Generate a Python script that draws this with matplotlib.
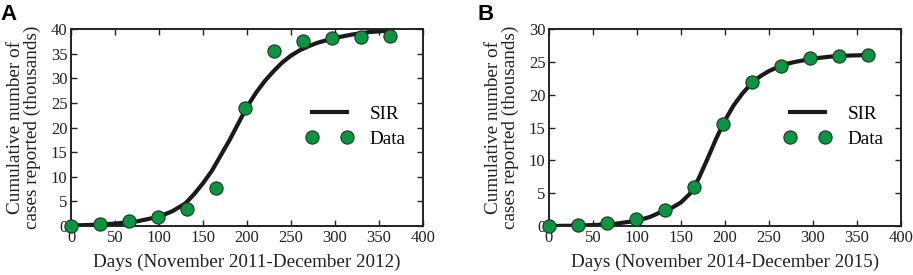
import matplotlib
matplotlib.use('Agg')
import matplotlib.pyplot as plt

plt.rcParams['font.family'] = ['Liberation Serif', 'DejaVu Serif']

# observed cumulative cases (thousands)
days = [0, 33, 66, 99, 132, 165, 198, 231, 264, 297, 330, 363]
data_a = [0.0, 0.5, 0.95, 1.8, 3.5, 7.7, 23.9, 35.6, 37.5, 38.2, 38.4, 38.6]
data_b = [0.0, 0.15, 0.4, 1.0, 2.4, 5.9, 15.6, 21.9, 24.4, 25.6, 25.9, 26.1]

# SIR model curves
sir_days_a = [0, 25, 50, 75, 100, 115, 130, 140, 150, 160, 170, 180, 190, 200,
              210, 220, 230, 240, 250, 260, 270, 280, 290, 300, 320, 340, 365]
sir_a = [0.1, 0.25, 0.5, 0.95, 1.9, 3.0, 4.6, 6.5, 8.7, 11.2, 14.3, 17.4, 20.8, 24.2,
         27.0, 29.4, 31.4, 33.2, 34.6, 35.7, 36.5, 37.2, 37.7, 38.2, 38.9, 39.4, 39.7]

sir_days_b = [0, 25, 50, 75, 100, 115, 130, 140, 150, 160, 170, 180, 190, 200,
              210, 220, 230, 240, 250, 260, 270, 280, 300, 320, 340, 365]
sir_b = [0.0, 0.05, 0.15, 0.35, 0.8, 1.4, 2.3, 2.8, 3.6, 4.9, 7.2, 10.2, 13.3, 16.1,
         18.4, 20.2, 21.7, 22.8, 23.6, 24.2, 24.7, 25.0, 25.5, 25.8, 25.95, 26.05]

panels = [
    ('A', sir_days_a, sir_a, data_a, 40, 'Days (November 2011-December 2012)'),
    ('B', sir_days_b, sir_b, data_b, 30, 'Days (November 2014-December 2015)'),
]

green = '#0b9444'
fig = plt.figure(figsize=(9.13, 2.75), dpi=100)
lefts = [0.0778, 0.6013]

for left, (tag, sd, sv, dv, ymax, xlabel) in zip(lefts, panels):
    ax = fig.add_axes([left, 0.178, 0.3855, 0.7165])
    ax.plot(sd, sv, color='#1a1a1a', lw=3, label='SIR', zorder=2)
    ax.plot(days, dv, 'o', ms=9.5, mfc=green, mec='#1a3a1a', mew=0.8,
            label='Data', clip_on=False, zorder=3)
    ax.set_xlim(0, 400)
    ax.set_ylim(0, ymax)
    ax.set_xticks(range(0, 401, 50))
    ax.set_yticks(range(0, ymax + 1, 5))
    ax.tick_params(direction='in', top=True, right=True, length=4, width=1,
                   labelsize=12, pad=2.5, colors='#222222')
    for s in ax.spines.values():
        s.set_linewidth(1.4)
        s.set_color('#222222')
    ax.set_xlabel(xlabel, fontsize=13.8, labelpad=6, color='#222222')
    ax.set_ylabel('Cumulative number of\ncases reported (thousands)', fontsize=13.8,
                  linespacing=0.95, labelpad=7, color='#222222')
    ax.legend(loc='center right', bbox_to_anchor=(1.0, 0.505), frameon=False,
              numpoints=2, fontsize=13.8, handlelength=2.4, handletextpad=0.9,
              labelspacing=0.4)
    fig.text(left - 0.0778, 0.985, tag, fontsize=16, fontweight='bold',
             family='Liberation Sans', va='top', ha='left')

fig.savefig('out.png', dpi=100)
